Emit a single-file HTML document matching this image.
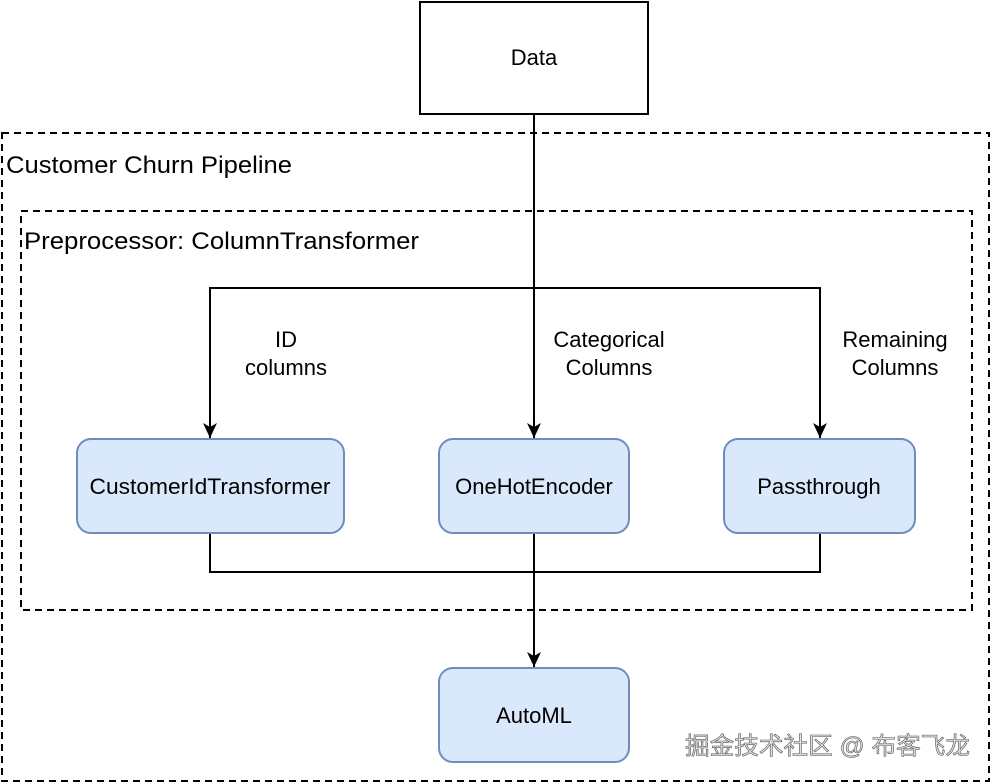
<!DOCTYPE html>
<html><head><meta charset="utf-8"><style>
html,body{margin:0;padding:0;background:#fff;width:992px;height:783px;overflow:hidden}
svg{display:block}
text{font-family:"Liberation Sans",Arial,sans-serif;fill:#000}
</style></head><body>
<svg width="992" height="783" viewBox="0 0 992 783" xmlns="http://www.w3.org/2000/svg">
<defs><marker id="a" markerWidth="16" markerHeight="14" refX="15" refY="7" orient="auto" markerUnits="userSpaceOnUse">
<path d="M0,0 L15,7 L0,14 L4,7 Z" fill="#000"/></marker></defs>
<rect x="2" y="133" width="987" height="648" fill="none" stroke="#000" stroke-width="2" stroke-dasharray="7,5"/>
<rect x="21" y="211" width="951" height="399" fill="none" stroke="#000" stroke-width="2" stroke-dasharray="7,5"/>
<text x="6" y="173" style="font-size:24px" textLength="286" lengthAdjust="spacingAndGlyphs">Customer Churn Pipeline</text>
<text x="24" y="249" style="font-size:24px" textLength="395" lengthAdjust="spacingAndGlyphs">Preprocessor: ColumnTransformer</text>
<rect x="420" y="2" width="228" height="112" fill="#fff" stroke="#000" stroke-width="2"/>
<g style="font-size:22px" text-anchor="middle">
<text x="534" y="65">Data</text>
<text x="286" y="347">ID</text><text x="286" y="375">columns</text>
<text x="609" y="347">Categorical</text><text x="609" y="375">Columns</text>
<text x="895" y="347">Remaining</text><text x="895" y="375">Columns</text>
</g>
<g stroke="#000" stroke-width="2" fill="none">
<line x1="534" y1="114" x2="534" y2="438" marker-end="url(#a)"/>
<polyline points="210,438 210,288 820,288 820,438" marker-end="url(#a)"/>
<line x1="210" y1="288" x2="210" y2="438" marker-end="url(#a)"/>
<polyline points="210,533 210,572 820,572 820,533"/>
<line x1="534" y1="533" x2="534" y2="667" marker-end="url(#a)"/>
</g>
<g fill="#dae8fc" stroke="#6c8ebf" stroke-width="2">
<rect x="77" y="439" width="267" height="94" rx="14"/>
<rect x="439" y="439" width="190" height="94" rx="14"/>
<rect x="724" y="439" width="191" height="94" rx="14"/>
<rect x="439" y="668" width="190" height="94" rx="14"/>
</g>
<g style="font-size:22px" text-anchor="middle">
<text x="210" y="494" textLength="241" lengthAdjust="spacingAndGlyphs">CustomerIdTransformer</text>
<text x="534" y="494">OneHotEncoder</text>
<text x="819" y="494">Passthrough</text>
<text x="534" y="723">AutoML</text>
</g>
<text x="685" y="754" textLength="285" lengthAdjust="spacingAndGlyphs" style="font-size:24px;font-family:'Liberation Sans','Noto Sans CJK SC',sans-serif;fill:#e0e0e0;stroke:#555;stroke-width:0.6">掘金技术社区 @ 布客飞龙</text>
</svg>
</body></html>
